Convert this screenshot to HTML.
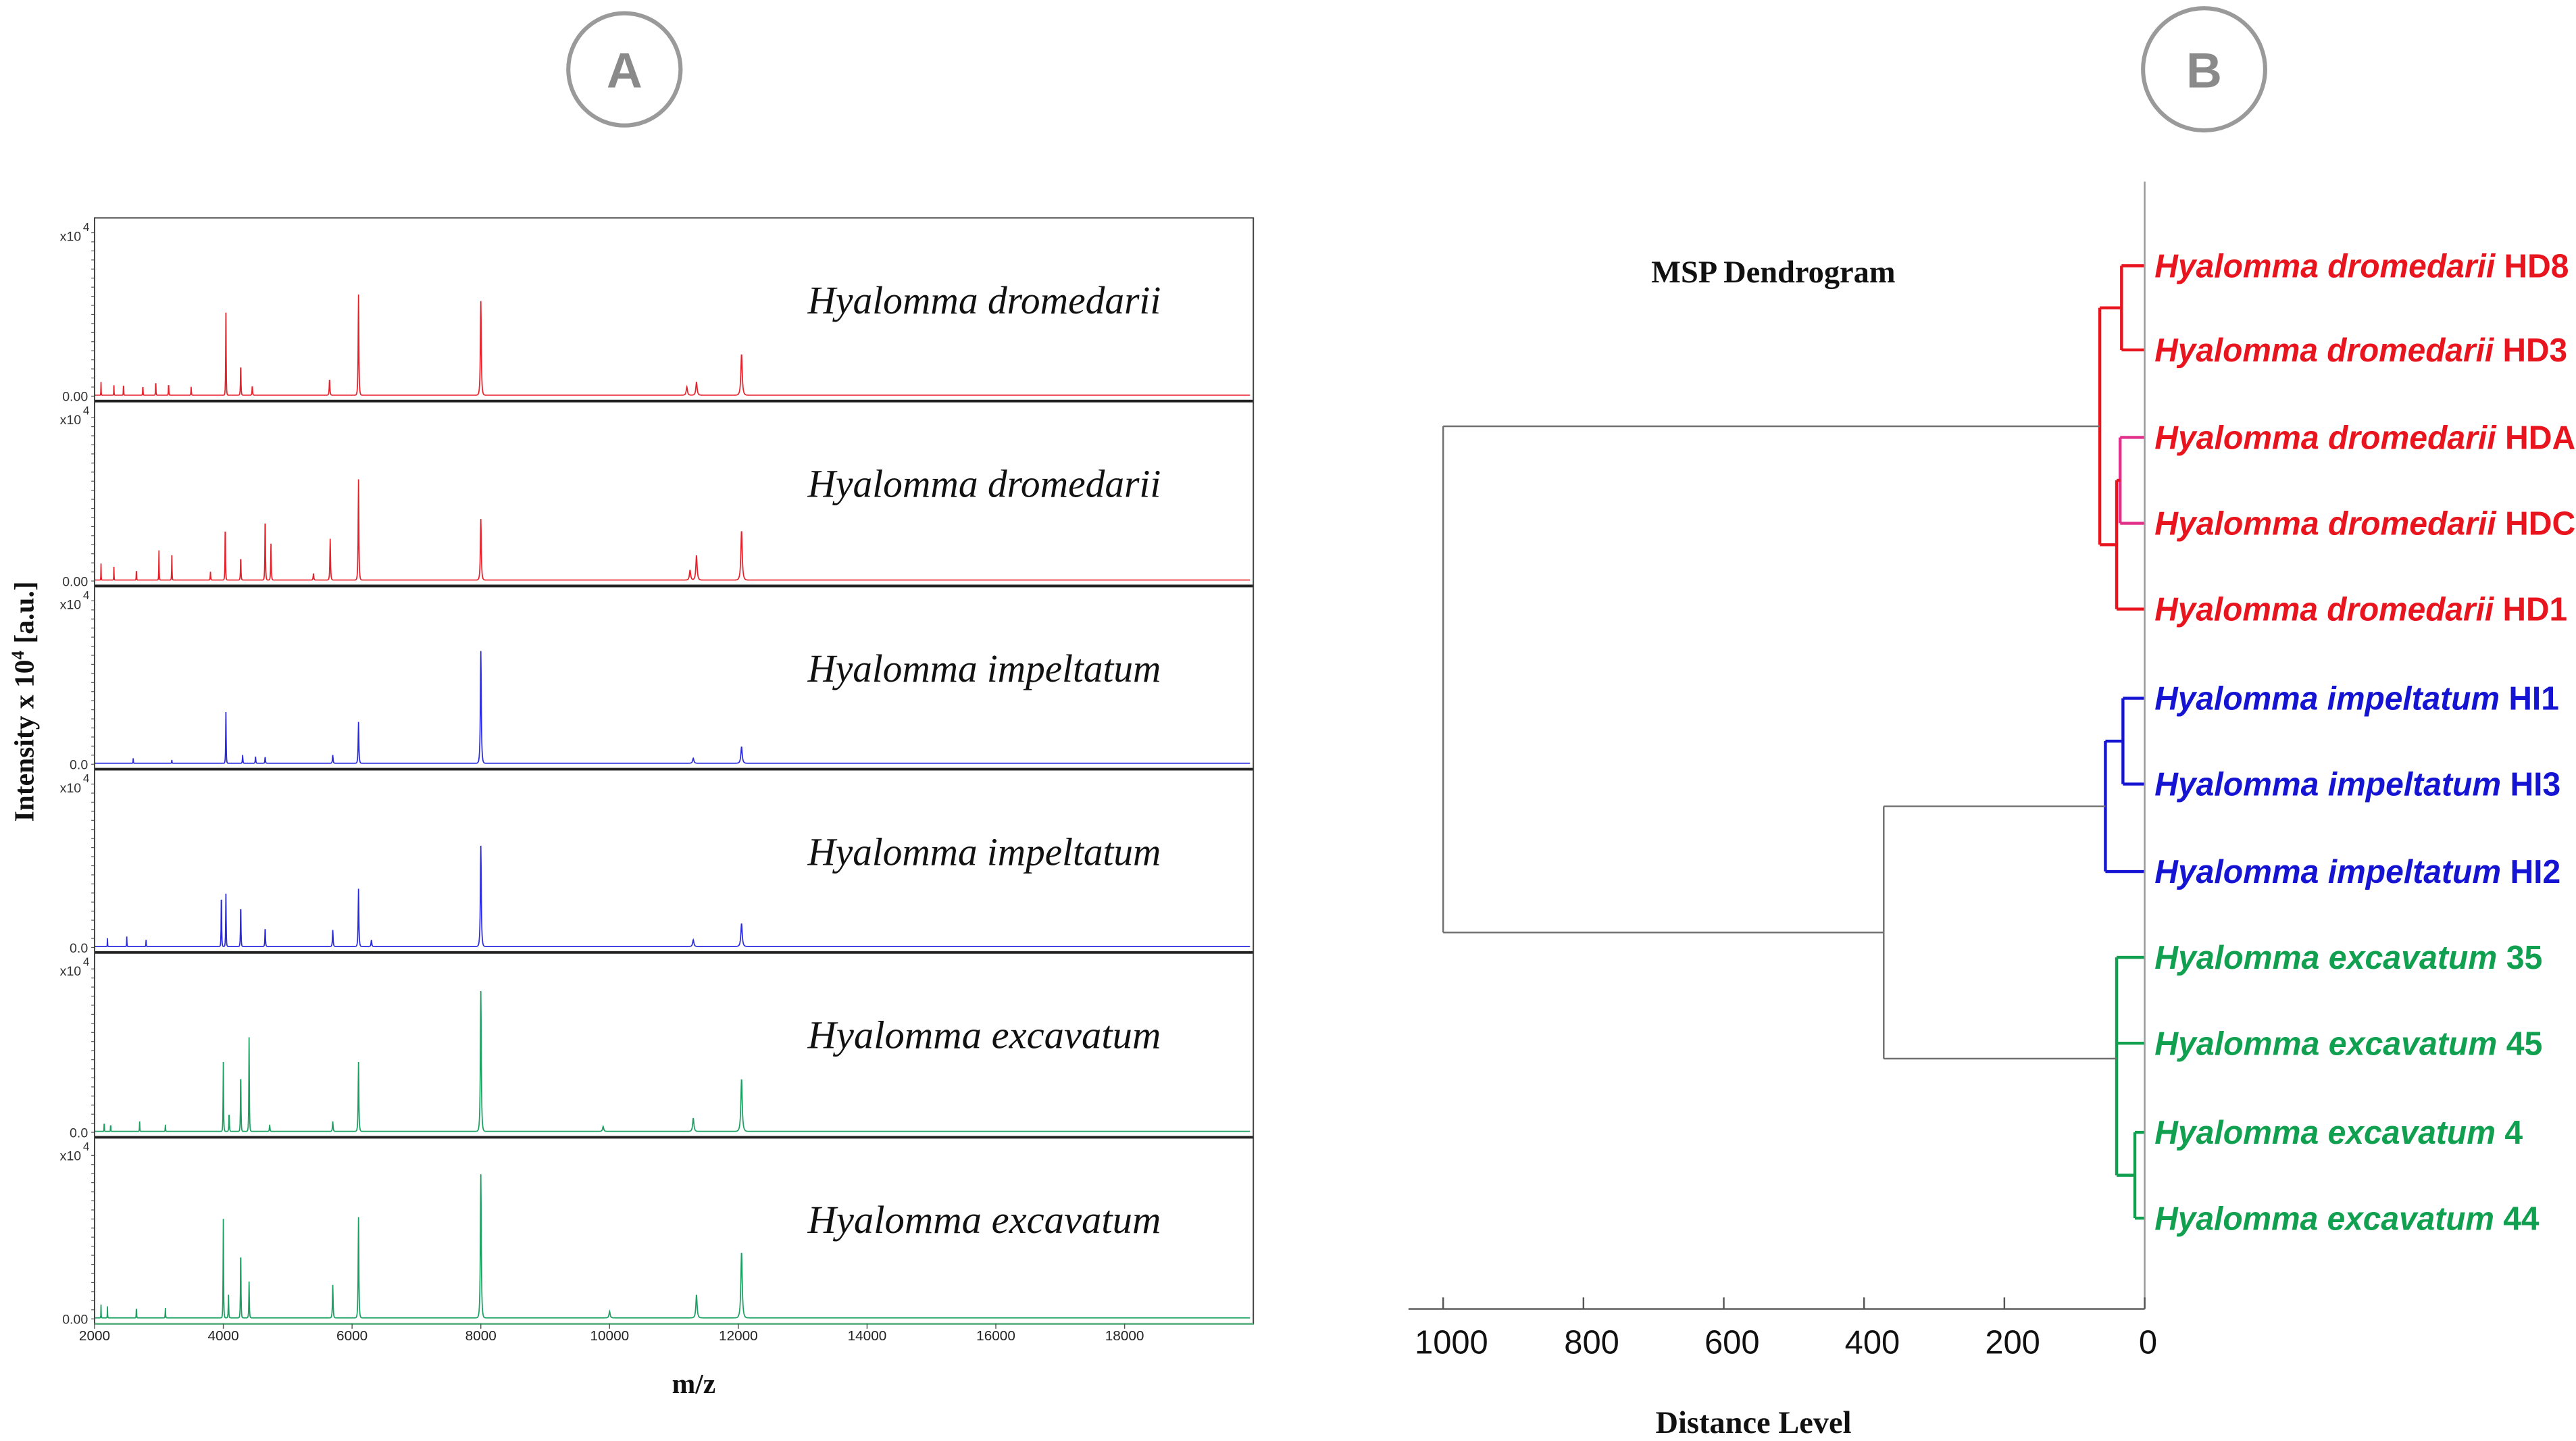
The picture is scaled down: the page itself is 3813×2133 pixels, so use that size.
<!DOCTYPE html>
<html><head><meta charset="utf-8"><style>
html,body{margin:0;padding:0;background:#fff;}
svg{display:block;}
</style></head><body>
<svg id="fig" width="3813" height="2133" viewBox="0 0 1560 873" xmlns="http://www.w3.org/2000/svg">
<rect width="1560" height="873" fill="#fff"/>
<g>
<circle cx="378" cy="42" r="34" fill="none" stroke="#9a9a9a" stroke-width="2.5"/>
<text x="378" y="53" text-anchor="middle" font-family="Liberation Sans, sans-serif" font-weight="bold" font-size="30" fill="#8a8a8a">A</text>
</g>
<g>
<circle cx="1335" cy="42" r="37" fill="none" stroke="#9a9a9a" stroke-width="2.5"/>
<text x="1335" y="53" text-anchor="middle" font-family="Liberation Sans, sans-serif" font-weight="bold" font-size="30" fill="#8a8a8a">B</text>
</g>
<g id="spectra"></g>
<g id="dendro"></g>
</svg>
<script>
// ---------- Spectra data ----------
const mzTicks = [2000,4000,6000,8000,10000,12000,14000,16000,18000];
const panelNames = ["Hyalomma dromedarii","Hyalomma dromedarii","Hyalomma impeltatum","Hyalomma impeltatum","Hyalomma excavatum","Hyalomma excavatum"];
const panelColors = ["#e8202a","#e8202a","#2a2ae0","#2a2ae0","#1aa060","#1aa060"];
const panelZero = ["0.00","0.00","0.0","0.0","0.0","0.00"];
const peaksMz1 = [2100,2300,2450,2750,2950,3150,3500,4040,4270,4450,5650,6100,8000,11200,11350,12050];
const peaksH1  = [8,6,9,7,10,8,5,50,20,6,10,61,57,5,8,25];
const peaksMz2 = [2100,2300,2650,3000,3200,3800,4030,4270,4650,4740,5400,5660,6100,8000,11250,11350,12050];
const peaksH2  = [10,8,8,18,15,5,36,15,40,22,4,25,61,37,6,15,30];
const peaksMz3 = [2600,3200,4040,4300,4500,4650,5700,6100,8000,11300,12050];
const peaksH3  = [3,2,31,5,4,4,5,25,68,3,10];
const peaksMz4 = [2200,2500,2800,3970,4040,4270,4650,5700,6100,6300,8000,11300,12050];
const peaksH4  = [5,6,4,35,32,27,12,10,35,4,61,4,14];
const peaksMz5 = [2150,2250,2700,3100,4000,4090,4270,4400,4720,5700,6100,8000,9900,11300,12050];
const peaksH5  = [8,6,6,4,42,12,38,57,4,6,42,85,3,8,32];
const peaksMz6 = [2100,2200,2650,3100,4000,4080,4270,4400,5700,6100,8000,10000,11350,12050];
const peaksH6  = [8,7,8,6,60,14,44,22,20,61,87,4,14,40];
const peaksMz = [peaksMz1,peaksMz2,peaksMz3,peaksMz4,peaksMz5,peaksMz6];
const peaksH = [peaksH1,peaksH2,peaksH3,peaksH4,peaksH5,peaksH6];

// ---------- Dendrogram data ----------
const leafNames = ["Hyalomma dromedarii","Hyalomma dromedarii","Hyalomma dromedarii","Hyalomma dromedarii","Hyalomma dromedarii","Hyalomma impeltatum","Hyalomma impeltatum","Hyalomma impeltatum","Hyalomma excavatum","Hyalomma excavatum","Hyalomma excavatum","Hyalomma excavatum"];
const leafIds = ["HD8","HD3","HDA","HDC","HD1","HI1","HI3","HI2","35","45","4","44"];
const leafColors = ["#e8141e","#e8141e","#e8141e","#e8141e","#e8141e","#1414d2","#1414d2","#1414d2","#10a050","#10a050","#10a050","#10a050"];
const mergeChildren = [[0,1],[2,3],[13,4],[12,14],[5,6],[16,7],[10,11],[8,9,18],[17,19],[15,20]];
const mergeDist = [33,35,40,64,31,56,14,40,372,1000];
const mergeColors = ["#e8141e","#e0308a","#e8141e","#e8141e","#1414d2","#1414d2","#10a050","#10a050","#707070","#707070"];
const distTicks = [1000,800,600,400,200,0];

const NS="http://www.w3.org/2000/svg";
function mk(tag,attrs,parent){const e=document.createElementNS(NS,tag);for(const k in attrs)e.setAttribute(k,attrs[k]);parent.appendChild(e);return e;}

// ---------- Spectra drawing ----------
const sp=document.getElementById('spectra');
const X0=57,X1=759,MZ0=2000,MZ1=20000;
const xs=mz=>X0+(mz-MZ0)/(MZ1-MZ0)*(X1-X0);
const panelTop=[132,243,355,466,577,689];
const panelBot=[243,355,466,577,689,802];
for(let p=0;p<6;p++){
  const top=panelTop[p],bot=panelBot[p],base=bot-3;
  const ys=v=>base-v;
  let d="";
  for(let mz=MZ0;mz<=MZ1-50;mz+=4){
    let v=0.6;
    const ms=peaksMz[p],hs=peaksH[p];
    for(let i=0;i<ms.length;i++){
      const w=ms[i]*0.0018;const t=(mz-ms[i])/w;
      v+=hs[i]/(1+t*t*3)*Math.exp(-t*t*0.15);
    }
    d+=(d?"L":"M")+xs(mz).toFixed(2)+","+ys(v).toFixed(2);
  }
  const path=mk('path',{d:d,fill:'none',stroke:panelColors[p],'stroke-width':0.7},sp);
  
  
  const lbl=mk('text',{x:596,y:top+58,'text-anchor':'middle','font-family':'Liberation Serif, serif','font-style':'italic','font-size':24,fill:'#111',textLength:214,lengthAdjust:'spacingAndGlyphs'},sp);
  lbl.textContent=panelNames[p];
  
  
  const sc=mk('text',{x:36,y:top+14,'font-family':'Liberation Sans, sans-serif','font-size':8,fill:'#333'},sp);
  sc.textContent="x10";
  
  
  const sc2=mk('text',{x:50,y:top+8,'font-family':'Liberation Sans, sans-serif','font-size':7,fill:'#333'},sp);
  sc2.textContent="4";
  
  
  const z=mk('text',{x:53,y:base+3,'text-anchor':'end','font-family':'Liberation Sans, sans-serif','font-size':8,fill:'#333'},sp);
  z.textContent=panelZero[p];
  
  
  for(let ty=base;ty>top+6;ty-=5.5){mk('line',{x1:X0-2,x2:X0,y1:ty,y2:ty,stroke:'#555','stroke-width':0.5},sp);}
  if(p<5){const sep=mk('line',{x1:X0,x2:X1,y1:bot,y2:bot,stroke:'#222','stroke-width':1.6},sp);
    }
}
const box=mk('rect',{x:X0,y:132,width:X1-X0,height:670,fill:'none',stroke:'#444','stroke-width':0.8},sp);

mk('line',{x1:X0,x2:X1,y1:802,y2:802,stroke:'#6ab88a','stroke-width':1.2},sp);
mzTicks.forEach(t=>{
  mk('line',{x1:xs(t),x2:xs(t),y1:802,y2:805,stroke:'#555','stroke-width':0.6},sp);
  const tl=mk('text',{x:xs(t),y:812,'text-anchor':'middle','font-family':'Liberation Sans, sans-serif','font-size':8.5,fill:'#222'},sp);
  tl.textContent=t;
  
  
});
const xt=mk('text',{x:420,y:844,'text-anchor':'middle','font-family':'Liberation Serif, serif','font-weight':'bold','font-size':17,fill:'#111'},sp);
xt.textContent="m/z";

const yt=mk('text',{x:0,y:0,transform:'translate(20,425) rotate(-90)','text-anchor':'middle','font-family':'Liberation Serif, serif','font-weight':'bold','font-size':17,fill:'#111'},sp);
yt.innerHTML='Intensity x 10<tspan dy="-6" font-size="11">4</tspan><tspan dy="6"> [a.u.]</tspan>';


// ---------- Dendrogram drawing ----------
const dg=document.getElementById('dendro');
const DX0=1299,DX1000=874;
const dx=d=>DX0-(DX0-DX1000)*d/1000;
const leafY0=161,leafStep=[0,51,104,156,208,262,314,367,419,471,525,577];
const ly=i=>leafY0+leafStep[i];
const nodeX=[],nodeY=[];
for(let i=0;i<leafIds.length;i++){nodeX[i]=dx(0);nodeY[i]=ly(i);}
mergeChildren.forEach((ch,k)=>{
  const id=leafIds.length+k;const x=dx(mergeDist[k]);
  const yv=ch.map(c=>nodeY[c]);
  nodeX[id]=x;nodeY[id]=yv.reduce((a,b)=>a+b,0)/yv.length;
  const col=mergeColors[k];const sw=col==="#707070"?1:1.8;
  const v=mk('line',{x1:x,x2:x,y1:Math.min(...yv),y2:Math.max(...yv),stroke:col,'stroke-width':sw},dg);
  
  ch.forEach(c=>{
    const h=mk('line',{x1:x,x2:nodeX[c],y1:nodeY[c],y2:nodeY[c],stroke:col,'stroke-width':sw},dg);
    
  });
});
const ax=mk('line',{x1:DX0,x2:DX0,y1:110,y2:793,stroke:'#999','stroke-width':1},dg);

const bx=mk('line',{x1:853,x2:DX0,y1:793,y2:793,stroke:'#555','stroke-width':1},dg);

distTicks.forEach(t=>{
  mk('line',{x1:dx(t),x2:dx(t),y1:786,y2:793,stroke:'#555','stroke-width':1},dg);
  const tl=mk('text',{x:dx(t)+(t===0?2:5),y:820,'text-anchor':'middle','font-family':'Liberation Sans, sans-serif','font-size':20,fill:'#111'},dg);
  tl.textContent=t;
  
});
const labW=[251,250,255,255,250,245,246,246,235,235,223,233];
leafIds.forEach((id,i)=>{
  const t=mk('text',{x:1305,y:ly(i)+7,'font-family':'Liberation Sans, sans-serif','font-weight':'bold','font-size':20,fill:leafColors[i],textLength:labW[i],lengthAdjust:'spacingAndGlyphs'},dg);
  t.innerHTML='<tspan font-style="italic">'+leafNames[i]+'</tspan> '+id;
  
  
});
const dt=mk('text',{x:1074,y:171,'text-anchor':'middle','font-family':'Liberation Serif, serif','font-weight':'bold','font-size':19,fill:'#111'},dg);
dt.textContent="MSP Dendrogram";

const dl=mk('text',{x:1062,y:868,'text-anchor':'middle','font-family':'Liberation Serif, serif','font-weight':'bold','font-size':19,fill:'#111'},dg);
dl.textContent="Distance Level";

</script>
</body></html>
